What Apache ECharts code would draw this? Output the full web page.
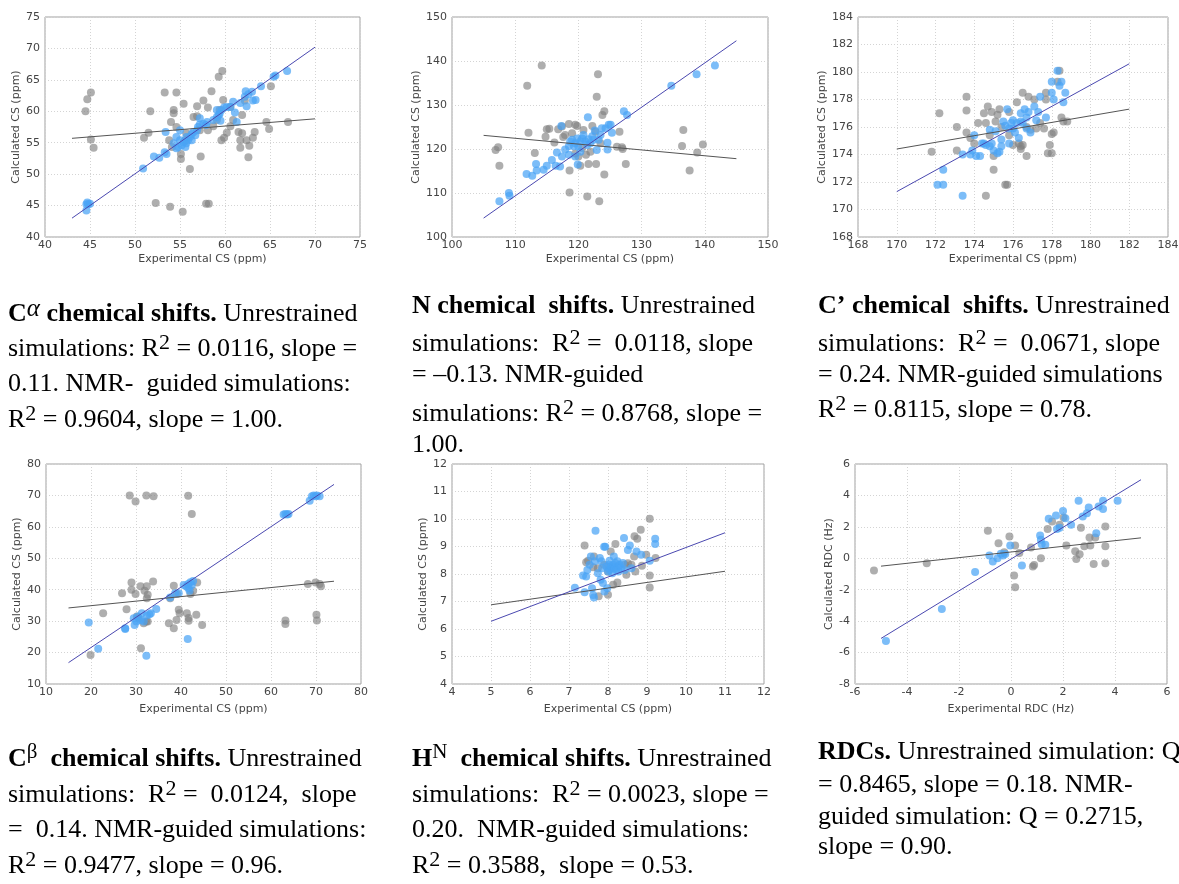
<!DOCTYPE html>
<html><head><meta charset="utf-8">
<script src="https://cdn.jsdelivr.net/npm/echarts@6/dist/echarts.min.js"></script>
<style>html,body{margin:0;padding:0;background:#fff}#c{width:1179px;height:884px}</style>
</head><body><div id="c"></div><script>
// ---------- axis ranges [min, max, interval] ----------
const caXRange = [40, 75, 5], caYRange = [40, 75, 5];
const nXRange = [100, 150, 10], nYRange = [100, 150, 10];
const coXRange = [168, 184, 2], coYRange = [168, 184, 2];
const cbXRange = [10, 80, 10], cbYRange = [10, 80, 10];
const hnXRange = [4, 12, 1], hnYRange = [4, 12, 1];
const rdcXRange = [-6, 6, 2], rdcYRange = [-8, 6, 2];
const xNameCS = 'Experimental CS (ppm)', yNameCS = 'Calculated CS (ppm)';
const xNameRDC = 'Experimental RDC (Hz)', yNameRDC = 'Calculated RDC (Hz)';

// ---------- C-alpha ----------
const caGray = [[44.5,60.0],[44.7,61.9],[45.1,63.0],[45.1,55.5],[45.4,54.2],[51.0,55.8],[51.5,56.6],[51.7,60.0],[53.3,63.0],[54.6,63.0],[54.3,60.2],[54.3,59.7],[54.0,58.3],[55.4,61.2],[52.3,45.4],[53.9,44.8],[55.3,44.0],[57.9,45.3],[58.2,45.3],[56.1,50.8],[55.1,53.2],[55.1,52.4],[57.3,52.8],[56.5,59.1],[56.9,59.2],[56.9,60.8],[57.6,61.7],[58.1,60.6],[58.5,63.2],[59.7,66.4],[59.3,65.5],[59.8,61.8],[60.6,60.7],[59.6,55.4],[59.9,55.8],[60.2,56.6],[60.6,57.6],[60.9,58.6],[61.7,55.4],[61.7,54.2],[61.9,56.5],[62.4,55.4],[62.6,52.7],[62.7,54.5],[61.9,59.4],[62.2,61.7],[63.1,55.8],[63.3,56.7],[64.6,58.3],[64.9,57.2],[65.1,64.0],[67.0,58.3],[61.5,56.7],[58.7,57.6],[57.2,57.0],[55.7,56.5],[54.6,57.5],[53.8,55.4],[54.1,54.3],[55.6,55.4],[59.1,58.6],[59.4,60.2],[58.1,57.0]];
const caBlue = [[44.6,45.2],[44.7,45.5],[44.8,45.2],[45.0,45.3],[44.6,44.2],[50.9,50.9],[52.1,52.8],[52.7,52.6],[53.3,53.5],[53.5,53.2],[53.4,56.7],[54.3,54.9],[54.6,55.9],[54.8,54.3],[55.0,55.4],[55.2,54.6],[55.4,55.1],[55.6,54.3],[55.7,54.9],[55.9,55.4],[56.1,55.9],[56.3,56.4],[56.5,56.7],[56.7,56.2],[56.9,57.0],[57.0,57.5],[57.2,57.9],[57.6,58.0],[57.9,57.8],[55.0,57.0],[54.6,54.1],[55.7,55.9],[56.3,55.4],[57.2,58.9],[58.0,58.3],[58.7,58.6],[59.1,59.1],[59.4,59.6],[59.6,60.2],[59.9,60.6],[60.2,60.7],[60.6,60.7],[60.9,61.5],[61.1,59.8],[61.3,58.3],[59.1,60.2],[59.3,59.4],[59.5,58.5],[61.7,61.3],[62.3,63.2],[62.6,62.7],[62.4,60.8],[63.1,61.7],[63.4,61.8],[64.0,64.0],[65.4,65.5],[65.6,65.7],[66.9,66.4],[62.2,62.3],[63.0,63.1]];
const caFitGray = [[43,55.7],[70,58.8]];
const caFitBlue = [[43,43.0],[70,70.2]];

// ---------- N ----------
const nGray = [[106.9,119.8],[107.3,120.4],[107.5,116.2],[111.9,134.4],[112.1,123.7],[114.2,139.0],[113.1,119.1],[114.8,122.8],[115.0,124.5],[115.4,124.6],[116.2,121.5],[116.8,124.5],[117.4,125.1],[117.6,122.7],[117.9,123.2],[118.5,125.7],[118.6,115.1],[118.6,110.1],[119.0,123.6],[119.5,125.5],[119.8,125.2],[120.0,118.3],[120.3,116.2],[120.8,124.3],[121.2,118.7],[121.4,109.2],[121.6,116.6],[122.2,125.2],[122.7,123.9],[122.8,116.6],[122.9,131.9],[123.1,137.0],[123.3,108.1],[123.8,127.7],[124.1,128.6],[124.1,114.2],[126.1,120.5],[126.5,123.9],[126.9,120.4],[127.0,120.0],[127.5,116.6],[136.6,124.3],[136.4,120.7],[137.6,115.1],[138.8,119.2],[139.7,121.0],[120.6,120.2],[121.9,119.4],[119.5,119.0],[123.5,121.3]];
const nBlue = [[107.5,108.1],[109.0,110.0],[109.1,109.4],[111.8,114.3],[112.7,113.9],[113.3,116.6],[113.4,115.1],[114.5,115.3],[115.0,116.2],[115.8,117.5],[116.4,116.2],[116.6,119.2],[117.1,116.0],[117.3,125.2],[117.4,118.3],[117.9,119.9],[118.5,120.7],[118.7,121.7],[119.0,122.1],[119.3,120.6],[119.5,121.3],[119.8,122.4],[119.9,116.5],[120.0,120.6],[120.3,121.7],[120.6,122.4],[120.8,123.2],[121.1,121.7],[121.4,120.9],[121.5,127.2],[121.6,122.2],[121.9,121.3],[122.2,122.9],[122.4,122.1],[122.6,124.2],[122.9,119.8],[123.2,122.1],[123.5,123.2],[123.7,124.7],[124.3,124.7],[124.6,119.9],[124.6,121.4],[124.8,125.5],[125.1,125.5],[125.3,123.7],[127.2,128.6],[127.7,127.7],[134.7,134.4],[138.7,137.0],[141.6,139.0],[118.5,118.7],[119.5,118.3],[120.3,119.4]];
const nFitGray = [[105,123.1],[145,117.8]];
const nFitBlue = [[105,104.3],[145,144.6]];

// ---------- C' ----------
const coGray = [[171.8,174.2],[172.2,177.0],[173.1,176.0],[173.1,174.3],[173.6,178.2],[173.6,177.2],[173.6,175.6],[173.8,175.2],[174.0,174.8],[174.2,176.3],[174.5,177.0],[174.6,176.3],[174.6,171.0],[174.7,177.5],[174.8,175.4],[174.9,177.1],[175.0,173.9],[175.0,172.9],[175.1,176.4],[175.2,176.9],[175.3,177.3],[175.4,176.0],[175.6,171.8],[175.7,171.8],[175.8,175.4],[175.8,177.1],[176.0,174.7],[176.2,177.8],[176.3,174.8],[176.4,174.6],[176.4,174.4],[176.5,178.5],[176.5,174.7],[176.7,173.9],[176.8,178.2],[176.9,175.8],[177.1,178.0],[177.2,175.9],[177.4,176.3],[177.6,175.9],[177.7,178.5],[177.7,178.0],[177.8,174.1],[177.9,174.7],[178.0,174.1],[178.0,175.5],[178.1,175.6],[178.3,179.3],[178.4,180.1],[178.5,176.7],[178.6,176.4],[178.8,176.4],[176.7,176.0]];
const coBlue = [[172.1,171.8],[172.4,171.8],[172.4,172.9],[173.4,171.0],[173.4,174.0],[173.8,174.0],[173.9,174.3],[174.0,175.4],[174.1,173.9],[174.3,173.9],[174.4,174.8],[174.5,174.8],[174.6,174.7],[174.8,175.8],[174.8,174.6],[174.9,174.8],[175.0,174.3],[175.1,175.7],[175.2,174.1],[175.3,174.2],[175.4,174.6],[175.4,175.1],[175.5,176.4],[175.6,176.1],[175.7,177.3],[175.8,175.9],[175.8,174.8],[175.9,176.3],[176.0,175.9],[176.0,176.5],[176.1,175.6],[176.2,176.3],[176.3,175.2],[176.4,176.4],[176.4,177.0],[176.5,176.3],[176.6,177.3],[176.7,176.7],[176.7,175.9],[176.8,177.1],[176.9,175.6],[177.1,177.5],[177.2,176.5],[177.3,177.1],[177.4,178.2],[177.7,176.7],[178.0,179.3],[178.0,178.5],[178.1,178.0],[178.3,180.1],[178.4,179.0],[178.5,179.3],[178.6,177.8],[178.7,178.5]];
const coFitGray = [[170,174.4],[182,177.3]];
const coFitBlue = [[170,171.3],[182,180.6]];

// ---------- C-beta ----------
const cbGray = [[19.9,19.2],[22.7,32.5],[26.9,38.9],[27.9,33.8],[28.6,70.0],[29.0,42.3],[29.0,40.0],[29.9,38.6],[29.9,68.1],[30.2,31.5],[31.0,41.1],[31.1,21.4],[31.9,39.7],[32.3,70.0],[32.4,41.1],[32.4,37.3],[32.6,38.4],[32.6,29.9],[33.8,42.6],[33.9,69.7],[37.3,29.3],[38.4,27.7],[39.0,30.4],[39.5,33.6],[39.7,32.5],[38.4,41.3],[41.3,32.5],[41.6,69.9],[41.7,31.0],[41.7,30.1],[42.4,64.1],[42.1,38.6],[42.7,39.7],[43.4,32.0],[43.6,42.3],[44.7,28.8],[63.2,30.2],[63.2,29.1],[68.2,41.8],[69.9,42.3],[70.8,41.8],[71.1,41.1],[70.1,32.0],[70.2,30.2],[39.1,38.6],[37.6,37.3],[32.3,29.9],[30.6,30.9],[31.7,29.3]];
const cbBlue = [[19.5,29.6],[21.6,21.2],[27.6,27.7],[27.6,27.5],[29.5,30.9],[29.7,28.8],[30.1,29.9],[30.4,31.5],[31.0,30.4],[31.3,32.5],[31.7,29.9],[32.3,19.0],[32.4,31.8],[33.0,32.2],[33.3,32.5],[34.5,33.9],[37.6,37.5],[38.7,38.9],[39.5,38.9],[40.6,41.5],[41.2,41.0],[41.6,41.8],[41.7,40.5],[41.9,39.7],[42.1,42.4],[42.4,41.5],[42.7,42.8],[41.5,24.3],[62.8,63.9],[63.2,64.1],[63.6,63.9],[63.9,64.1],[68.6,68.3],[69.1,69.7],[69.5,70.0],[69.9,69.7],[70.2,70.0],[70.8,69.7]];
const cbFitGray = [[15,34.2],[74,42.7]];
const cbFitBlue = [[15,16.8],[74,73.5]];

// ---------- H-N ----------
const hnGray = [[7.40,9.04],[7.44,8.43],[7.49,8.48],[7.62,8.25],[7.76,7.19],[7.90,8.34],[8.00,7.25],[8.07,8.82],[8.13,7.61],[8.19,9.09],[8.24,7.69],[8.47,7.97],[8.51,8.39],[8.60,8.34],[8.67,8.64],[8.68,9.37],[8.75,9.28],[8.70,8.09],[8.84,9.61],[8.87,8.30],[8.98,8.70],[9.07,10.01],[9.07,7.95],[9.07,7.51],[9.22,8.58],[8.43,8.34],[7.74,8.21],[8.00,8.09],[7.64,8.64]];
const hnBlue = [[7.15,7.50],[7.36,7.95],[7.44,7.91],[7.40,7.34],[7.47,8.15],[7.53,8.34],[7.56,8.64],[7.59,7.48],[7.62,7.24],[7.64,7.15],[7.66,8.46],[7.68,9.57],[7.74,8.03],[7.79,8.58],[7.81,7.79],[7.85,8.21],[7.87,7.67],[7.90,8.99],[7.93,8.99],[7.91,7.36],[7.96,8.27],[7.98,7.48],[8.00,8.09],[8.02,8.34],[8.04,8.15],[8.07,8.21],[8.09,8.27],[8.11,8.03],[8.13,8.34],[8.15,8.64],[8.17,8.21],[8.19,8.40],[8.21,8.15],[8.24,8.46],[8.26,8.27],[8.27,8.09],[8.30,8.34],[8.34,8.21],[8.38,8.40],[8.41,9.31],[8.43,8.15],[8.51,8.87],[8.56,9.04],[8.60,8.21],[8.73,8.82],[8.85,8.70],[9.07,8.48],[9.21,9.28],[9.21,9.09],[7.83,8.46],[8.04,8.48]];
const hnFitGray = [[5,6.88],[11,8.1]];
const hnFitBlue = [[5,6.28],[11,9.5]];

// ---------- RDC ----------
const rdcGray = [[-5.27,-0.78],[-3.24,-0.31],[-0.89,1.75],[-0.48,0.96],[-0.26,0.39],[-0.06,1.39],[0.16,0.82],[0.12,-1.09],[0.16,-1.84],[0.32,0.33],[0.77,0.69],[0.84,-0.52],[0.89,-0.42],[1.15,0.0],[1.41,1.87],[1.58,2.34],[1.87,2.13],[2.02,2.59],[2.13,0.82],[2.47,0.44],[2.51,-0.04],[2.64,0.25],[2.69,1.95],[2.82,0.76],[3.02,1.33],[3.05,0.82],[3.18,-0.37],[3.24,1.33],[3.63,2.02],[3.63,0.76],[3.63,-0.31]];
const rdcBlue = [[-4.81,-5.26],[-2.66,-3.22],[-1.38,-0.88],[-0.83,0.18],[-0.70,-0.20],[-0.52,0.01],[-0.39,0.29],[-0.31,0.18],[-0.22,0.27],[-0.03,0.82],[0.42,-0.46],[1.12,1.45],[1.15,1.18],[1.18,0.90],[1.32,0.86],[1.45,2.51],[1.73,2.72],[1.77,1.87],[1.87,1.95],[2.00,3.01],[2.09,2.55],[2.31,2.13],[2.60,3.66],[2.76,2.66],[2.92,2.87],[2.99,3.23],[3.28,1.60],[3.37,3.29],[3.54,3.14],[3.54,3.66],[4.10,3.66]];
const rdcFitGray = [[-5,-0.5],[5,1.3]];
const rdcFitBlue = [[-5,-5.1],[5,5.0]];

// ---------- captions ----------
const capCa = ['{b|C}{sa|α}{b| chemical shifts.}{t| Unrestrained}', '{t|simulations: R}{s|2}{t| = 0.0116, slope =}', '{t|0.11. NMR-  guided simulations:}', '{t|R}{s|2}{t| = 0.9604, slope = 1.00.}'];
const capN = ['{b|N chemical  shifts.}{t| Unrestrained}', '{t|simulations:  R}{s|2}{t| =  0.0118, slope}', '{t|= –0.13. NMR-guided}', '{t|simulations: R}{s|2}{t| = 0.8768, slope =}', '{t|1.00.}'];
const capCo = ['{b|C’ chemical  shifts.}{t| Unrestrained}', '{t|simulations:  R}{s|2}{t| =  0.0671, slope}', '{t|= 0.24. NMR-guided simulations}', '{t|R}{s|2}{t| = 0.8115, slope = 0.78.}'];
const capCb = ['{b|C}{sb|β}{b|  chemical shifts.}{t| Unrestrained}', '{t|simulations:  R}{s|2}{t| =  0.0124,  slope}', '{t|=  0.14. NMR-guided simulations:}', '{t|R}{s|2}{t| = 0.9477, slope = 0.96.}'];
const capHn = ['{b|H}{sn|N}{b|  chemical shifts.}{t| Unrestrained}', '{t|simulations:  R}{s|2}{t| = 0.0023, slope =}', '{t|0.20.  NMR-guided simulations:}', '{t|R}{s|2}{t| = 0.3588,  slope = 0.53.}'];
const capRdc = ['{b|RDCs.}{t| Unrestrained simulation: Q}', '{t|= 0.8465, slope = 0.18. NMR-}', '{t|guided simulation: Q = 0.2715,}', '{t|slope = 0.90.}'];

const FS = 26;
const serif = 'Liberation Serif';
const rich = {
  t: {fontFamily: serif, fontSize: FS, lineHeight: 30, verticalAlign: 'bottom', fill: '#000'},
  b: {fontFamily: serif, fontSize: FS, fontWeight: 'bold', lineHeight: 30, verticalAlign: 'bottom', fill: '#000'},
  s: {fontFamily: serif, fontSize: 22, lineHeight: 10, verticalAlign: 'top', fill: '#000'},
  sa: {fontFamily: serif, fontSize: 25, fontStyle: 'italic', lineHeight: 18, verticalAlign: 'top', fill: '#000'},
  sb: {fontFamily: serif, fontSize: 21, lineHeight: 14, verticalAlign: 'top', fill: '#000'},
  sn: {fontFamily: serif, fontSize: 21, lineHeight: 10, verticalAlign: 'top', fill: '#000'}
};

const panels = [
  {g:{left:45,top:17,width:315,height:220}, xr:caXRange, yr:caYRange, xn:xNameCS, yn:yNameCS, gray:caGray, blue:caBlue, fg:caFitGray, fb:caFitBlue, yGap:18.5, xGap:17},
  {g:{left:452,top:17,width:316,height:220}, xr:nXRange, yr:nYRange, xn:xNameCS, yn:yNameCS, gray:nGray, blue:nBlue, fg:nFitGray, fb:nFitBlue, yGap:19.5, xGap:17},
  {g:{left:858,top:17,width:310,height:220}, xr:coXRange, yr:coYRange, xn:xNameCS, yn:yNameCS, gray:coGray, blue:coBlue, fg:coFitGray, fb:coFitBlue, yGap:19.5, xGap:17},
  {g:{left:46,top:464,width:315,height:220}, xr:cbXRange, yr:cbYRange, xn:xNameCS, yn:yNameCS, gray:cbGray, blue:cbBlue, fg:cbFitGray, fb:cbFitBlue, yGap:20.5, xGap:20},
  {g:{left:452,top:464,width:312,height:220}, xr:hnXRange, yr:hnYRange, xn:xNameCS, yn:yNameCS, gray:hnGray, blue:hnBlue, fg:hnFitGray, fb:hnFitBlue, yGap:15.5, xGap:20},
  {g:{left:855,top:464,width:312,height:220}, xr:rdcXRange, yr:rdcYRange, xn:xNameRDC, yn:yNameRDC, gray:rdcGray, blue:rdcBlue, fg:rdcFitGray, fb:rdcFitBlue, yGap:17.5, xGap:20}
];

const captions = [
  {lines: capCa, x: 8, ys: [312, 347, 382, 418]},
  {lines: capN, x: 412, ys: [304, 342, 373, 412, 443]},
  {lines: capCo, x: 818, ys: [304, 342, 373, 408]},
  {lines: capCb, x: 8, ys: [757, 793, 828, 864]},
  {lines: capHn, x: 412, ys: [757, 793, 828, 864]},
  {lines: capRdc, x: 818, ys: [750, 783, 815, 845]}
];

const sans = 'DejaVu Sans';
const option = {animation: false, backgroundColor: '#fff', grid: [], xAxis: [], yAxis: [], series: [], graphic: []};
panels.forEach((p, i) => {
  option.grid.push(Object.assign({show: true, borderColor: '#a0a0a0', borderWidth: 1, backgroundColor: 'transparent', outerBoundsMode: 'none', containLabel: false}, p.g));
  const common = {
    gridIndex: i, type: 'value', nameLocation: 'middle',
    nameTextStyle: {fontFamily: sans, fontSize: 11, color: '#444'},
    axisLine: {show: false}, axisTick: {show: false},
    axisLabel: {fontFamily: sans, fontSize: 11, color: '#444'},
    splitLine: {show: true, lineStyle: {color: '#d4d4d4', width: 1, type: [1, 2]}}
  };
  option.xAxis.push(Object.assign({}, common, {min: p.xr[0], max: p.xr[1], interval: p.xr[2], name: p.xn, nameGap: p.xGap,
    axisLabel: Object.assign({}, common.axisLabel, {margin: 3})}));
  option.yAxis.push(Object.assign({}, common, {min: p.yr[0], max: p.yr[1], interval: p.yr[2], name: p.yn, nameGap: p.yGap,
    axisLabel: Object.assign({}, common.axisLabel, {margin: 5})}));
  option.series.push({type: 'scatter', xAxisIndex: i, yAxisIndex: i, data: p.gray, symbolSize: 8,
    itemStyle: {color: 'rgba(128,128,128,0.8)'}, z: 2});
  option.series.push({type: 'scatter', xAxisIndex: i, yAxisIndex: i, data: p.blue, symbolSize: 8,
    itemStyle: {color: 'rgba(74,163,245,0.9)'}, z: 3});
  option.series.push({type: 'line', xAxisIndex: i, yAxisIndex: i, data: p.fg, symbol: 'none',
    lineStyle: {color: '#555', width: 1}, z: 4});
  option.series.push({type: 'line', xAxisIndex: i, yAxisIndex: i, data: p.fb, symbol: 'none',
    lineStyle: {color: '#4a48b0', width: 1}, z: 5});
});
captions.forEach(c => {
  c.lines.forEach((ln, k) => {
    option.graphic.push({type: 'text', x: c.x, y: c.ys[k], silent: true,
      style: {text: ln, rich: rich, align: 'left', verticalAlign: 'middle', fontFamily: serif, fontSize: FS, fill: '#000'}});
  });
});
const chart = echarts.init(document.getElementById('c'), null, {renderer: 'canvas'});
chart.setOption(option);
</script></body></html>
